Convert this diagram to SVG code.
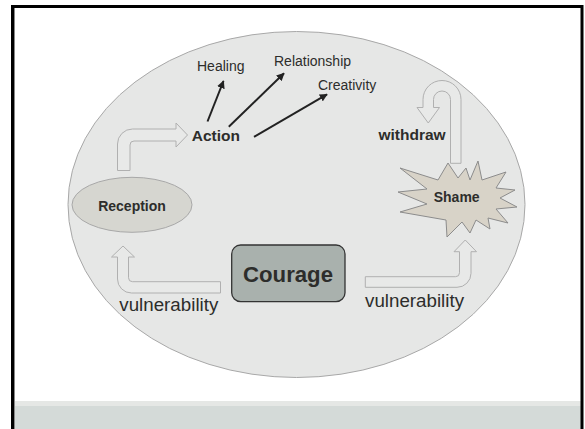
<svg xmlns="http://www.w3.org/2000/svg" width="585" height="429" viewBox="0 0 585 429">
<defs>
<marker id="ah" viewBox="0 0 10 10" refX="9" refY="5" markerWidth="4" markerHeight="4" orient="auto" markerUnits="strokeWidth">
<path d="M0,0 L10,5 L0,10 Z" fill="#222"/>
</marker>
<style>
.t{font-family:"Liberation Sans",Arial,sans-serif;fill:#2d2d2b}
.b{font-weight:bold}
.hollow{fill:#e8e9e8;stroke:#b0b0b0;stroke-width:1}
.ln{stroke:#222;stroke-width:2;fill:none;marker-end:url(#ah)}
</style>
</defs>
<rect x="0" y="0" width="585" height="429" fill="#fff"/>
<rect x="14" y="401" width="567" height="5" fill="#e5e7e5"/>
<rect x="14" y="406" width="567" height="23" fill="#d4dad8"/>
<path d="M12.5,440 L12.5,6.5 L582,6.5 L582,440" fill="none" stroke="#000" stroke-width="3"/>
<line x1="14.5" y1="8" x2="14.5" y2="429" stroke="#888" stroke-width="1"/>
<g id="background">
<ellipse cx="296.5" cy="204.5" rx="228.5" ry="173" fill="#e6e7e6" stroke="#a8a8a8" stroke-width="1"/>
</g>
<g id="connectors">
<path class="hollow" d="M117.5,170.5 L117.5,144 A15,15 0 0 1 132.5,129 L176,129 L176,123 L187.5,135 L176,147 L176,141 L134,141 A4,4 0 0 0 130,145 L130,170.5 Z"/>
<path class="hollow" d="M220.5,293 L131.5,293 A14,14 0 0 1 117.5,279 L117.5,257 L111.5,257 L123,246 L134.5,257 L128.5,257 L128.5,277.7 A4,4 0 0 0 132.5,281.7 L220.5,281.7 Z"/>
<path class="hollow" d="M365.3,276.7 L455.5,276.7 A4,4 0 0 0 459.5,272.7 L459.5,251.7 L454,251.7 L465.25,240 L476.5,251.7 L471,251.7 L471,273.3 A14,14 0 0 1 457,287.3 L365.3,287.3 Z"/>
<path class="hollow" d="M461,163.3 L461,99.5 A19,19 0 0 0 423,99.5 L423,107.5 L417,107.5 L428.25,123 L439.5,107.5 L433.5,107.5 L433.5,99.5 A8.5,8.5 0 0 1 450.5,99.5 L450.5,163.3 Z"/>
<line class="ln" x1="207.5" y1="121.5" x2="223.5" y2="81"/>
<line class="ln" x1="228.8" y1="126.7" x2="284" y2="73.3"/>
<line class="ln" x1="254" y1="136.8" x2="327" y2="94.3"/>
</g>
<g id="reception">
<ellipse cx="132" cy="204.8" rx="60" ry="27.5" fill="#d6d6d0" stroke="#a8a8a8" stroke-width="1"/>
<text class="t b" x="132" y="211" font-size="14" text-anchor="middle">Reception</text>
</g>
<g id="action">
<text class="t b" x="191.7" y="140.7" font-size="15.5">Action</text>
</g>
<g id="healing">
<text class="t" x="197" y="71" font-size="14">Healing</text>
</g>
<g id="relationship">
<text class="t" x="274" y="66" font-size="14">Relationship</text>
</g>
<g id="creativity">
<text class="t" x="318" y="89.5" font-size="14">Creativity</text>
</g>
<g id="withdraw">
<text class="t b" x="378.5" y="139.7" font-size="15.5">withdraw</text>
</g>
<g id="shame">
<polygon points="478,161 482,180 506,172 496,188 515,190 500,198 517,207 496,209 508,223 488,218 490,229 476,220 470,233 462,222 447,237 446,220 400,212 427,204 398,192 427,189 400,168 438,180 448,163 458,178 466,168 470,180" fill="#d8d3c8" stroke="#8c8c8c" stroke-width="1"/>
<text class="t b" x="456.7" y="201.7" font-size="14" text-anchor="middle">Shame</text>
</g>
<g id="courage">
<rect x="231.7" y="245" width="113.3" height="56.7" rx="9" fill="#a9b1ad" stroke="#333" stroke-width="1.3"/>
<text class="t b" x="288" y="281.7" font-size="22.2" text-anchor="middle">Courage</text>
</g>
<g id="vuln-left">
<text class="t" x="119.3" y="310.5" font-size="18.75">vulnerability</text>
</g>
<g id="vuln-right">
<text class="t" x="365" y="306.5" font-size="18.75">vulnerability</text>
</g>
</svg>
